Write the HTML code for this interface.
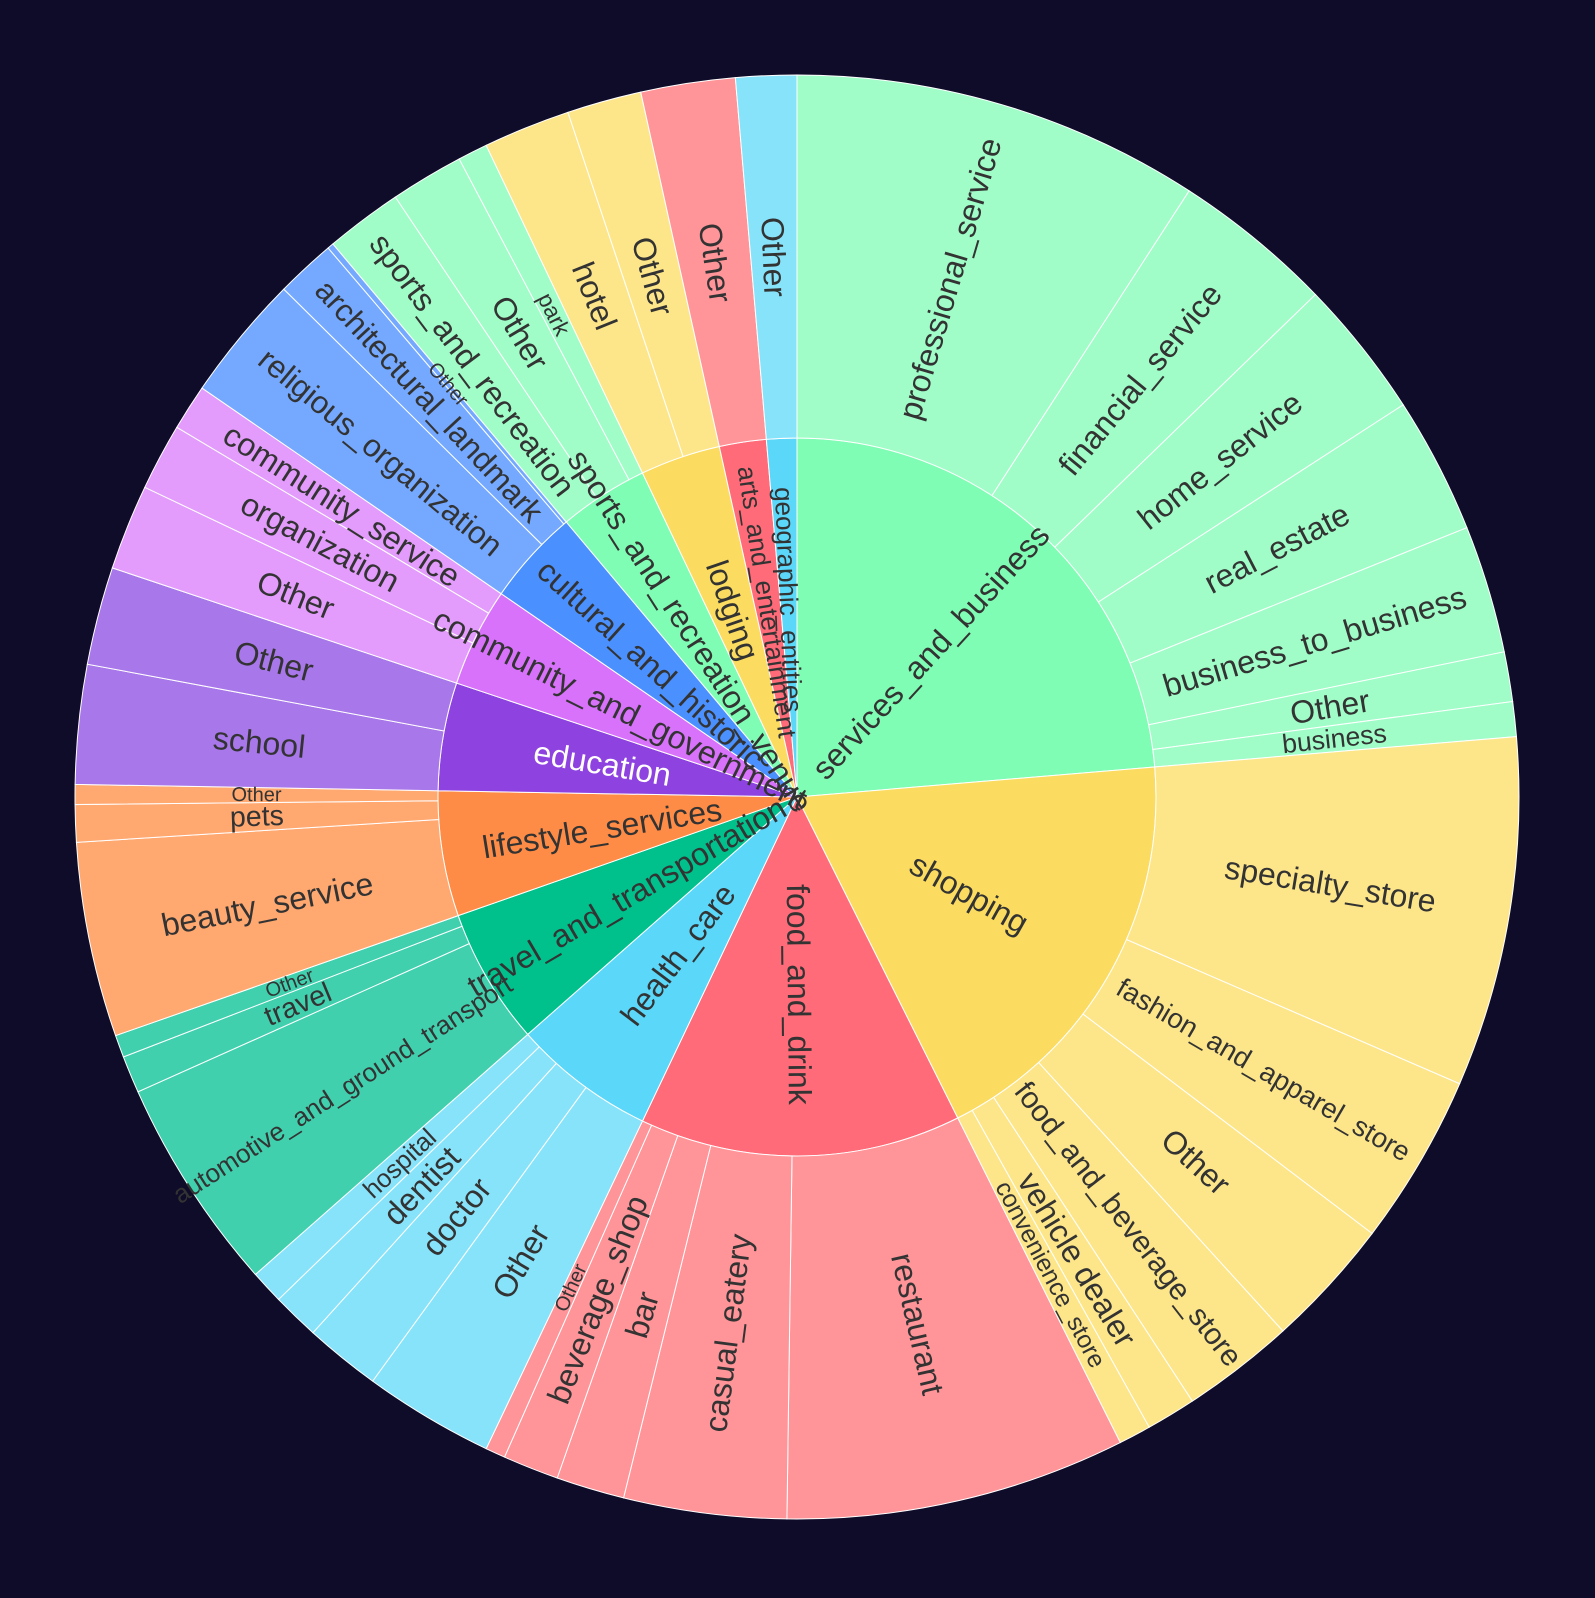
<!DOCTYPE html>
<html><head><meta charset="utf-8"><style>
html,body{margin:0;padding:0;background:#0f0c29;}
svg{display:block}
</style></head><body>
<svg id="s" width="1595" height="1598" viewBox="0 0 1595 1598" xmlns="http://www.w3.org/2000/svg">
<rect width="1595" height="1598" fill="#0f0c29"/>
<g id="g"></g>
<g id="t" font-family="Liberation Sans, DejaVu Sans, sans-serif"></g>
</svg>
<script>
var CX=797,CY=797,R1=359,R2=722;
var inner=[
["services_and_business",0,85.2,"#80fdb4","#a0fdc8",[["professional_service",32.9],["financial_service",45.9],["home_service",57.1],["real_estate",68.1],["business_to_business",78.4],["Other",82.4],["business",85.2]]],
["shopping",85.2,153.4,"#fbdc60","#fde68a",[["specialty_store",113.4],["fashion_and_apparel_store",127.2],["Other",137.7],["food_and_beverage_store",146.8],["vehicle dealer",150.8],["convenience_store",153.4]]],
["food_and_drink",153.4,205.5,"#ff6b78","#ff9499",[["restaurant",180.8],["casual_eatery",193.9],["bar",199.4],["beverage_shop",203.9],["Other",205.5]]],
["health_care",205.5,228.6,"#5ad7f9","#87e3fa",[["Other",216],["doctor",222.1],["dentist",225.9],["hospital",228.6]]],
["travel_and_transportation",228.6,250.7,"#00c08c","#40d0ae",[["automotive_and_ground_transport",245.9],["travel",248.9],["Other",250.7]]],
["lifestyle_services",250.7,271,"#ff8c46","#ffa870",[["beauty_service",266.4],["pets",269.4],["Other",271]]],
["education",271,288.5,"#8e42e0","#a877ea",[["school",280.6],["Other",288.5]]],
["community_and_government",288.5,304.5,"#d872fb","#e39cfc",[["Other",295.4],["organization",300.8],["community_service",304.5]]],
["cultural_and_historic",304.5,320,"#4a90ff","#74a9ff",[["religious_organization",314.7],["architectural_landmark",319.5],["Other",320]]],
["sports_and_recreation_venue",320,334.5,"#80fdb4","#a0fdc8",[["sports_and_recreation",326.2],["Other",332.1],["park",334.5]]],
["lodging",334.5,347.5,"#fbdc60","#fde68a",[["hotel",341.5],["Other",347.5]]],
["arts_and_entertainment",347.5,355.1,"#ff6b78","#ff9499",[["Other",355.1]]],
["geographic_entities",355.1,360,"#5ad7f9","#87e3fa",[["Other",360]]]
];
function pt(r,a){var t=a*Math.PI/180;return [CX+r*Math.sin(t),CY-r*Math.cos(t)];}
function arc(r0,r1,a0,a1){
 var p1=pt(r1,a0),p2=pt(r1,a1),p3=pt(r0,a1),p4=pt(r0,a0),lg=(a1-a0)>180?1:0;
 var d="M"+p1+"A"+r1+","+r1+" 0 "+lg+" 1 "+p2+"L"+p3;
 if(r0>0)d+="A"+r0+","+r0+" 0 "+lg+" 0 "+p4;
 return d+"Z";
}
var g=document.getElementById("g"),tg=document.getElementById("t"),NS="http://www.w3.org/2000/svg";
function path(d,f){var e=document.createElementNS(NS,"path");e.setAttribute("d",d);e.setAttribute("fill",f);e.setAttribute("stroke","#fff");e.setAttribute("stroke-width","1");g.appendChild(e);}
function label(txt,r,a,size,fill){
 var p=pt(r,a),rot=a<180?a-90:a+90;
 var e=document.createElementNS(NS,"text");
 e.setAttribute("x",p[0]);e.setAttribute("y",p[1]);
 e.setAttribute("text-anchor","middle");e.setAttribute("dominant-baseline","central");
 e.setAttribute("font-size",size);e.setAttribute("fill",fill);
 e.setAttribute("transform","rotate("+rot+" "+p[0]+" "+p[1]+")");
 e.textContent=txt;tg.appendChild(e);
}
inner.forEach(function(s){
 path(arc(0,R1,s[1],s[2]),s[3]);
 var a0=s[1];
 s[5].forEach(function(c){path(arc(R1,R2,a0,c[1]),s[4]);
   var deg=c[1]-a0,sz=Math.max(20,Math.min(32,deg*9.5));
   if(c[0].length*sz*0.55>380)sz=Math.max(26,380/(c[0].length*0.55));
   label(c[0],(R1+R2)/2,(a0+c[1])/2,sz,"#333");
   a0=c[1];});
});
inner.forEach(function(s){
 var deg=s[2]-s[1],sz=Math.max(26,Math.min(32,deg*3.2));
 label(s[0],R1*0.55,(s[1]+s[2])/2,sz,s[0]=="education"?"#fff":"#333");
});
</script>
</body></html>
